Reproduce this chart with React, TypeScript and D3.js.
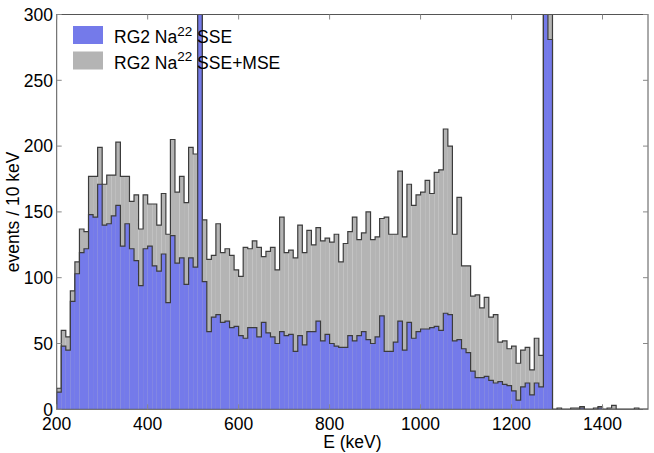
import * as d3 from 'd3'

// 10 keV bins starting at 200 keV
const binStart = 200
const binWidth = 10

// RG2 Na22 SSE+MSE (events / 10 keV)
const sseMse = [
  16, 60, 55, 90, 112, 137, 135, 177, 177, 199,
  171, 178, 178, 203, 177, 177, 158, 163, 137, 163,
  156, 156, 140, 164, 133, 205, 165, 177, 157, 199,
  194, 340, 144, 114, 117, 141, 119, 122, 117, 106,
  101, 123, 122, 128, 123, 116, 120, 123, 106, 146,
  119, 121, 115, 140, 119, 136, 125, 138, 128, 130,
  127, 133, 112, 126, 135, 146, 129, 134, 150, 129,
  131, 145, 146, 133, 133, 181, 131, 171, 155, 163,
  165, 174, 164, 180, 182, 213, 200, 133, 161, 109,
  109, 86, 87, 77, 85, 70, 72, 51, 52, 46,
  48, 35, 45, 47, 30, 54, 41, 420, 330, 0,
  1, 0, 0, 1, 1, 2, 0, 0, 1, 2,
  0, 1, 3, 0, 0, 0, 0, 1, 0, 0,
]

// RG2 Na22 SSE (events / 10 keV)
const sse = [
  13, 48, 45, 82, 103, 119, 122, 148, 146, 171,
  140, 141, 147, 155, 124, 141, 122, 113, 94, 122,
  124, 109, 105, 118, 81, 132, 111, 115, 95, 115,
  108, 335, 97, 59, 70, 72, 66, 67, 62, 63,
  56, 54, 62, 62, 55, 66, 58, 55, 50, 59,
  56, 57, 44, 56, 49, 59, 59, 67, 52, 57,
  50, 48, 47, 47, 56, 52, 56, 59, 53, 50,
  55, 71, 44, 44, 51, 67, 45, 66, 54, 59,
  61, 61, 62, 63, 60, 73, 72, 52, 53, 46,
  43, 29, 24, 24, 25, 22, 20, 21, 19, 18,
  14, 7, 17, 20, 11, 20, 17, 410, 281, 0,
  0, 0, 0, 0, 0, 1, 0, 0, 0, 1,
  0, 0, 0, 0, 0, 0, 0, 0, 0, 0,
]

const xTickValues = [200, 400, 600, 800, 1000, 1200, 1400]
const yTickValues = [0, 50, 100, 150, 200, 250, 300]

const series = [
  { label: 'SSE+MSE', values: sseMse, fill: '#b4b4b4' },
  { label: 'SSE', values: sse, fill: '#747aea' },
]

const font = '"Liberation Sans", Arial, Helvetica, sans-serif'

export default function App() {
  const width = 654
  const height = 453
  const plot = { left: 56.7, right: 648, top: 14.5, bottom: 409.3 }

  const x = d3.scaleLinear().domain([200, 1500]).range([plot.left, plot.right])
  const y = d3.scaleLinear().domain([0, 300]).range([plot.bottom, plot.top])

  const line = d3
    .line<[number, number]>()
    .x((d) => x(d[0]))
    .y((d) => y(d[1]))

  // step outline of a histogram: [keV, count] corners
  const steps = (values: number[]) => {
    const pts: [number, number][] = [[binStart, 0]]
    values.forEach((v, i) => {
      const e0 = binStart + i * binWidth
      pts.push([e0, v], [e0 + binWidth, v])
    })
    pts.push([binStart + values.length * binWidth, 0])
    return pts
  }

  const tick = 5

  return (
    <svg
      width={width}
      height={height}
      style={{ position: 'absolute', left: 0, top: 0 }}
      fontFamily={font}
      fontSize={17.5}
    >
      <defs>
        <clipPath id="plot-clip">
          <rect
            x={plot.left}
            y={plot.top}
            width={plot.right - plot.left}
            height={plot.bottom - plot.top}
          />
        </clipPath>
      </defs>

      <g clipPath="url(#plot-clip)">
        {series.map((s) => (
          <g key={s.label}>
            {s.values.map((v, i) => {
              const e0 = binStart + i * binWidth
              return (
                <rect
                  key={i}
                  x={x(e0)}
                  width={x(e0 + binWidth) - x(e0)}
                  y={y(v)}
                  height={y(0) - y(v)}
                  fill={s.fill}
                />
              )
            })}
            <path
              d={line(steps(s.values))!}
              fill="none"
              stroke="#3c3c3c"
              strokeWidth={1.2}
            />
          </g>
        ))}
      </g>

      {/* frame */}
      <rect
        x={plot.left}
        y={plot.top}
        width={plot.right - plot.left}
        height={plot.bottom - plot.top}
        fill="none"
        stroke="#555"
        strokeWidth={1}
      />

      {/* x ticks */}
      <g stroke="#888" strokeWidth={1}>
        {xTickValues.map((t) => (
          <g key={t}>
            <line x1={x(t)} x2={x(t)} y1={plot.bottom} y2={plot.bottom - tick} />
            <line x1={x(t)} x2={x(t)} y1={plot.top} y2={plot.top + tick} />
          </g>
        ))}
        {yTickValues.map((t) => (
          <g key={t}>
            <line x1={plot.left} x2={plot.left + tick} y1={y(t)} y2={y(t)} />
            <line x1={plot.right} x2={plot.right - tick} y1={y(t)} y2={y(t)} />
          </g>
        ))}
      </g>

      <g fill="#000" textAnchor="middle">
        {xTickValues.map((t) => (
          <text key={t} x={x(t)} y={430}>
            {t}
          </text>
        ))}
      </g>
      <g fill="#000" textAnchor="end">
        {yTickValues.map((t) => (
          <text key={t} x={53} y={y(t) + 6.3}>
            {t}
          </text>
        ))}
      </g>

      <text x={(plot.left + plot.right) / 2} y={448} textAnchor="middle">
        E (keV)
      </text>
      <text
        transform={`translate(19, ${(plot.top + plot.bottom) / 2}) rotate(-90)`}
        textAnchor="middle"
      >
        events / 10 keV
      </text>

      {/* legend */}
      {[series[1], series[0]].map((s, i) => (
        <g key={s.label} transform={`translate(0, ${i * 25.5})`}>
          <rect x={73} y={26} width={30} height={18} fill={s.fill} />
          <text x={114} y={43.3}>
            RG2 Na
            <tspan fontSize={13.5} dy={-7.5}>
              22
            </tspan>
            <tspan dy={7.5}>{' ' + s.label}</tspan>
          </text>
        </g>
      ))}
    </svg>
  )
}
